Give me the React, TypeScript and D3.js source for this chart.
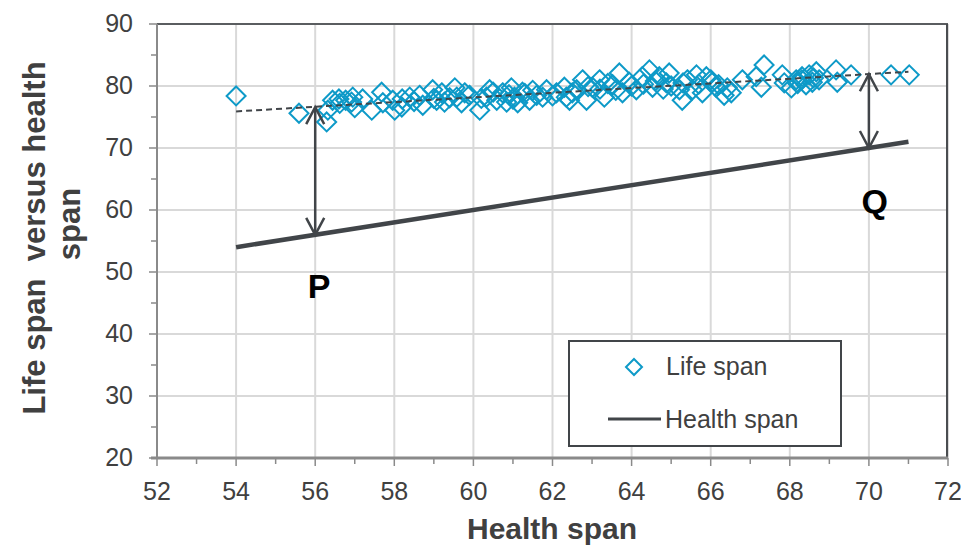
import React from 'react'
import { scaleLinear, range, line } from 'd3'

// life span scatter (health span on x, life span on y)
const lifeX = [
  54.0, 55.59, 56.29, 56.32, 56.44, 56.62, 56.77, 56.92, 56.95, 57.0, 57.43, 57.68, 57.71, 57.96, 58.01,
  58.19, 58.39, 58.64, 58.72, 58.97, 59.07, 59.2, 59.27, 59.4, 59.53, 59.58, 59.7, 59.78, 60.16, 60.33,
  60.41, 60.59, 60.74, 60.84, 60.96, 61.04, 61.12, 61.24, 61.42, 61.6, 61.75, 61.85, 62.1, 62.3, 62.35,
  62.43, 62.61, 62.76, 62.86, 63.01, 63.19, 63.31, 63.52, 63.69, 63.77, 63.94, 64.12, 64.27, 64.45, 64.53,
  64.7, 64.88, 64.95, 65.21, 65.28, 65.41, 65.54, 65.64, 65.79, 65.89, 66.04, 66.14, 66.34, 66.42, 66.52,
  66.8, 67.15, 67.28, 67.35, 67.81, 67.86, 68.04, 68.16, 68.31, 68.41, 68.49, 68.57, 68.67, 68.74, 69.17,
  69.2, 69.55, 70.56, 71.02,
  59.9, 60.5, 60.9, 61.3, 61.5, 62.0, 62.5, 62.9, 63.2, 63.4, 64.0, 64.3, 64.6, 65.0, 65.3,
  65.7, 66.0, 66.2, 68.2, 68.6, 68.3, 57.2, 56.6, 58.5, 59.0, 60.2, 61.0, 63.6, 64.8, 58.2,
]
const lifeY = [
  78.4, 75.6, 74.2, 76.1, 77.7, 77.2, 77.7, 77.4, 78.2, 76.5, 76.1, 79.0, 77.3, 77.7, 76.1,
  76.6, 78.2, 78.5, 76.9, 79.4, 77.7, 78.9, 77.4, 78.1, 79.7, 78.2, 77.3, 78.9, 76.1, 78.2,
  79.4, 77.7, 78.9, 77.4, 79.7, 78.2, 77.3, 79.0, 77.7, 78.5, 78.2, 79.4, 78.9, 79.8, 78.2,
  77.7, 79.4, 81.0, 77.7, 79.8, 81.0, 78.2, 80.2, 82.1, 78.9, 80.6, 79.4, 81.5, 82.6, 79.8,
  81.5, 80.5, 82.1, 79.4, 77.7, 81.0, 79.4, 81.8, 78.9, 81.5, 80.6, 79.8, 78.5, 79.7, 78.9,
  81.0, 81.5, 79.8, 83.4, 81.8, 80.5, 79.7, 81.0, 81.5, 80.2, 81.8, 80.6, 82.3, 81.0, 82.6,
  80.6, 81.8, 81.8, 81.8,
  78.5, 79.0, 78.6, 78.8, 79.3, 78.4, 78.9, 79.9, 79.5, 80.4, 80.0, 80.3, 80.8, 80.0, 80.5,
  80.3, 81.0, 80.2, 80.4, 81.3, 81.0, 77.9, 77.9, 77.5, 78.0, 78.0, 77.9, 79.3, 79.5, 77.9,
]

const healthX = [54, 71]
const healthY = [54, 71]
const trendX = [54, 71]
const trendY = [75.9, 82.3]

const arrowX = [56, 70]
const arrowTop = [76.6, 81.9]
const arrowBottom = [56, 70]
const arrowLabels = ['P', 'Q']
const arrowLabelY = [45.8, 59.5]
const arrowLabelX = [56.1, 70.15]

const xTicks = range(52, 73, 2)
const xMinor = range(53, 72, 2)
const yTicks = range(20, 91, 10)
const yMinor = range(25, 90, 10)

const font = '"Liberation Sans", Arial, sans-serif'
const textCol = '#404040'
const darkCol = '#414549'
const blue = '#0e9ac8'

export default function App() {
  const W = 961, H = 548
  const left = 157, right = 948, top = 24, bottom = 458

  const x = scaleLinear().domain([52, 72]).range([left, right])
  const y = scaleLinear().domain([20, 90]).range([bottom, top])

  const diamond = (cx: number, cy: number, r: number) =>
    `M${cx},${cy - r}L${cx + r},${cy}L${cx},${cy + r}L${cx - r},${cy}Z`

  const seg = line<number>().x((d, i) => x(healthX[i])).y(d => y(d))
  const trendLine = line<number>().x((d, i) => x(trendX[i])).y(d => y(d))

  return (
    <svg width={W} height={H} style={{ position: 'absolute', left: 0, top: 0, background: '#fff' }}>
      {/* grid */}
      {xTicks.slice(1).map(t => (
        <line key={'gx' + t} x1={x(t)} x2={x(t)} y1={top} y2={bottom} stroke="#d9d9d9" strokeWidth={2} />
      ))}
      {yTicks.slice(1).map(t => (
        <line key={'gy' + t} x1={left} x2={right} y1={y(t)} y2={y(t)} stroke="#d9d9d9" strokeWidth={2} />
      ))}

      {/* frame */}
      <line x1={left} x2={right} y1={top} y2={top} stroke="#5a5d60" strokeWidth={2} />
      <line x1={right - 1} x2={right - 1} y1={top} y2={bottom} stroke="#4a4d50" strokeWidth={2} />
      <line x1={left} x2={left} y1={top} y2={bottom} stroke="#8a8a8a" strokeWidth={2} />
      <line x1={left - 6} x2={right} y1={bottom} y2={bottom} stroke="#8a8a8a" strokeWidth={3} />

      {/* y ticks */}
      {yTicks.map(t => (
        <g key={'yt' + t}>
          <line x1={left - 8} x2={left} y1={y(t)} y2={y(t)} stroke="#8a8a8a" strokeWidth={1.5} />
          <text x={left - 24} y={y(t) + 8} textAnchor="end" fontSize={25} fontFamily={font} fill={textCol}>{t}</text>
        </g>
      ))}
      {yMinor.map(t => (
        <line key={'ym' + t} x1={left - 6} x2={left} y1={y(t)} y2={y(t)} stroke="#8a8a8a" strokeWidth={1.5} />
      ))}

      {/* x ticks */}
      {xTicks.map(t => (
        <g key={'xt' + t}>
          <line x1={x(t)} x2={x(t)} y1={bottom} y2={bottom + 8} stroke="#8a8a8a" strokeWidth={1.5} />
          <text x={x(t)} y={bottom + 42} textAnchor="middle" fontSize={25} fontFamily={font} fill={textCol}>{t}</text>
        </g>
      ))}
      {xMinor.map(t => (
        <line key={'xm' + t} x1={x(t)} x2={x(t)} y1={bottom} y2={bottom + 6} stroke="#8a8a8a" strokeWidth={1.5} />
      ))}

      {/* health span line */}
      <path d={seg(healthY) || ''} fill="none" stroke={darkCol} strokeWidth={4.5} />

      {/* life span points */}
      {lifeX.map((v, i) => (
        <path key={'p' + i} d={diamond(x(v), y(lifeY[i]), 9.5)} fill="none" stroke={blue} strokeWidth={2} />
      ))}

      {/* trend line */}
      <path d={trendLine(trendY) || ''} fill="none" stroke={darkCol} strokeWidth={2} strokeDasharray="6,4" />

      {/* arrows */}
      {arrowX.map((v, i) => {
        const ax = x(v), y1 = y(arrowTop[i]), y2 = y(arrowBottom[i])
        return (
          <g key={'a' + i} stroke={darkCol} strokeWidth={2.5} fill="none">
            <line x1={ax} x2={ax} y1={y1} y2={y2} />
            <path d={`M${ax - 9},${y1 + 17}L${ax},${y1}L${ax + 9},${y1 + 17}`} />
            <path d={`M${ax - 9},${y2 - 17}L${ax},${y2}L${ax + 9},${y2 - 17}`} />
          </g>
        )
      })}
      {arrowLabels.map((l, i) => (
        <text key={'l' + l} x={x(arrowLabelX[i])} y={y(arrowLabelY[i])} textAnchor="middle" fontSize={34}
          fontWeight="bold" fontFamily={font} fill="#000">{l}</text>
      ))}

      {/* legend */}
      <rect x={569} y={341} width={272} height={105} fill="#fff" stroke={darkCol} strokeWidth={2} />
      <path d={diamond(634, 367, 8)} fill="none" stroke={blue} strokeWidth={2} />
      <text x={666} y={375} fontSize={25} fontFamily={font} fill={textCol}>Life span</text>
      <line x1={608} x2={661} y1={419} y2={419} stroke={darkCol} strokeWidth={3} />
      <text x={665} y={428} fontSize={25} fontFamily={font} fill={textCol}>Health span</text>

      {/* axis titles */}
      <text x={552} y={539} textAnchor="middle" fontSize={30} fontWeight="bold" fontFamily={font} fill={textCol}>Health span</text>
      <g transform="translate(45,238) rotate(-90)">
        <text x={0} y={0} textAnchor="middle" fontSize={31} fontWeight="bold" fontFamily={font} fill={textCol} style={{ whiteSpace: 'pre' }}>Life span  versus health</text>
      </g>
      <g transform="translate(80,224) rotate(-90)">
        <text x={0} y={0} textAnchor="middle" fontSize={31} fontWeight="bold" fontFamily={font} fill={textCol}>span</text>
      </g>
    </svg>
  )
}
